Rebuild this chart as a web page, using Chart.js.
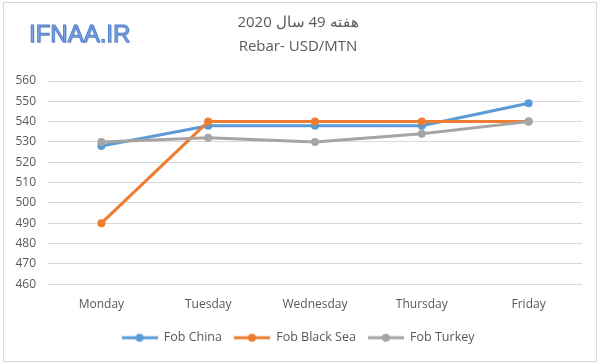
<!DOCTYPE html>
<html>
<head>
<meta charset="utf-8">
<script src="https://cdn.jsdelivr.net/npm/chart.js@4/dist/chart.umd.min.js"></script>
<style>
  html, body { margin: 0; padding: 0; background: #fff; }
  #wrap { width: 600px; height: 364px; position: relative; }
</style>
</head>
<body>
<div id="wrap"><canvas id="rebarChart" width="600" height="364"></canvas></div>
<script>
// Data
const days = ["Monday", "Tuesday", "Wednesday", "Thursday", "Friday"];
const fobChina = [528, 538, 538, 538, 549];
const fobBlackSea = [490, 540, 540, 540, 540];
const fobTurkey = [530, 532, 530, 534, 540];
const titleLines = ["\u202Bهفته 49 سال 2020\u202C", "Rebar- USD/MTN"];

const textGray = "#595959";
const gridGray = "#d9d9d9";

// legend marker: short line with a dot, like Excel
function makeMarker(color) {
    const c = document.createElement("canvas");
    c.width = 36;
    c.height = 10;
    const g = c.getContext("2d");
    g.strokeStyle = color;
    g.lineWidth = 3;
    g.beginPath();
    g.moveTo(0, 5);
    g.lineTo(36, 5);
    g.stroke();
    g.fillStyle = color;
    g.beginPath();
    g.arc(18, 5, 4, 0, Math.PI * 2);
    g.fill();
    return c;
}

// frame, white background and the site logo
const decorPlugin = {
    id: "decor",
    beforeDraw(chart) {
        const ctx = chart.ctx;
        ctx.save();
        ctx.fillStyle = "#fff";
        ctx.fillRect(0, 0, chart.width, chart.height);
        ctx.strokeStyle = gridGray;
        ctx.lineWidth = 1;
        ctx.strokeRect(3.5, 2.5, 593, 359);
        ctx.restore();
    },
    afterDraw(chart) {
        const ctx = chart.ctx;
        ctx.save();
        ctx.font = "24px 'Liberation Sans'";
        ctx.textBaseline = "middle";
        ctx.shadowColor = "rgba(60,90,150,0.35)";
        ctx.shadowOffsetX = 1;
        ctx.shadowOffsetY = 1;
        ctx.shadowBlur = 1;
        ctx.fillStyle = "#86a9e3";
        ctx.fillText("IFNAA.IR", 29, 35);
        ctx.shadowColor = "transparent";
        ctx.strokeStyle = "#4f7ec9";
        ctx.lineWidth = 1;
        ctx.strokeText("IFNAA.IR", 29, 35);
        ctx.restore();
    }
};

const colors = ["#5b9bd5", "#ed7d31", "#a5a5a5"];

function series(label, data, color, order) {
    return {
        label: label,
        data: data,
        borderColor: color,
        backgroundColor: color,
        borderWidth: 3,
        pointRadius: 4,
        pointHoverRadius: 4,
        pointBorderWidth: 0,
        pointBackgroundColor: color,
        tension: 0,
        order: order,
        marker: makeMarker(color)
    };
}

new Chart(document.getElementById("rebarChart"), {
    type: "line",
    data: {
        labels: days,
        datasets: [
            series("Fob China", fobChina, colors[0], 3),
            series("Fob Black Sea", fobBlackSea, colors[1], 2),
            series("Fob Turkey", fobTurkey, colors[2], 1)
        ]
    },
    plugins: [decorPlugin],
    options: {
        responsive: false,
        devicePixelRatio: 1,
        animation: false,
        layout: { padding: { left: 14, right: 18, top: 11, bottom: 10 } },
        plugins: {
            title: {
                display: true,
                text: titleLines,
                color: textGray,
                font: { family: "'Open Sans'", size: 15, weight: "normal", lineHeight: 1.6 },
                padding: { top: 0, bottom: 22 }
            },
            legend: {
                position: "bottom",
                labels: {
                    color: textGray,
                    font: { family: "'Open Sans'", size: 12.5 },
                    usePointStyle: true,
                    pointStyleWidth: 36,
                    padding: 12,
                    generateLabels(chart) {
                        const items = Chart.defaults.plugins.legend.labels.generateLabels(chart);
                        items.forEach(it => {
                            it.pointStyle = chart.data.datasets[it.datasetIndex].marker;
                        });
                        return items.sort((a, b) => a.datasetIndex - b.datasetIndex);
                    }
                }
            },
            tooltip: { enabled: false }
        },
        scales: {
            x: {
                offset: true,
                afterFit(scale) { scale.height += 3; },
                grid: { display: false },
                border: { display: false },
                ticks: { color: textGray, font: { family: "'Open Sans'", size: 12 }, padding: 5 }
            },
            y: {
                min: 460,
                max: 560,
                afterFit(scale) { scale.width = 34; },
                grid: { color: gridGray, drawTicks: false },
                border: { display: false },
                ticks: { stepSize: 10, color: textGray, font: { family: "'Open Sans'", size: 12 }, padding: 12 }
            }
        }
    }
});
</script>
</body>
</html>
